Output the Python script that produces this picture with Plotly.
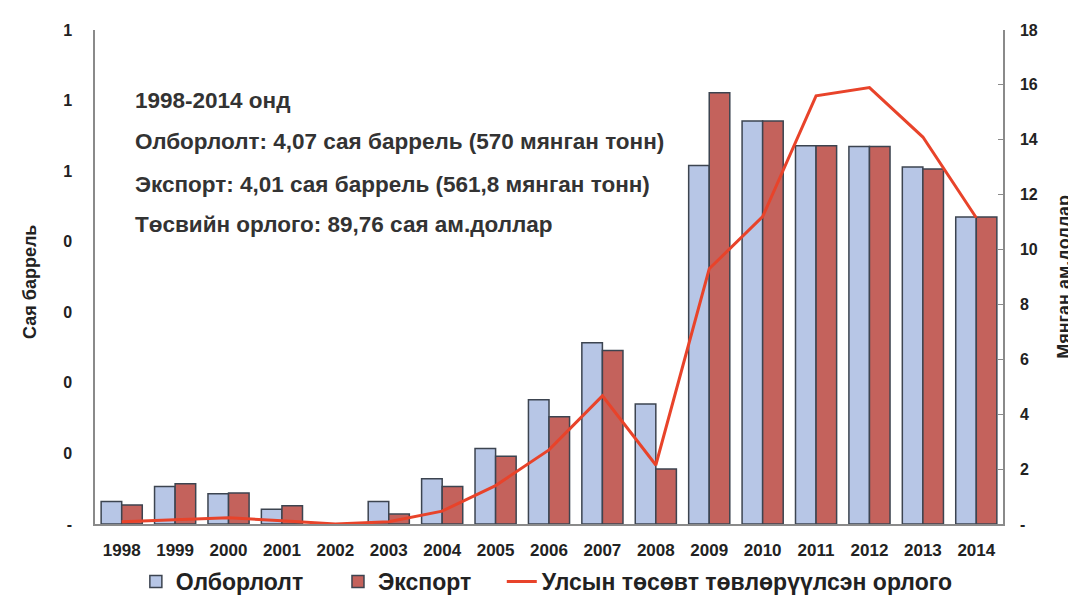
import plotly.graph_objects as go

years = ["1998", "1999", "2000", "2001", "2002", "2003", "2004", "2005", "2006",
         "2007", "2008", "2009", "2010", "2011", "2012", "2013", "2014"]
production = [0.032, 0.053, 0.043, 0.021, 0.0, 0.032, 0.064, 0.107, 0.176,
              0.257, 0.170, 0.508, 0.571, 0.536, 0.535, 0.506, 0.435]
export = [0.027, 0.057, 0.044, 0.026, 0.0, 0.014, 0.053, 0.096, 0.152,
          0.246, 0.078, 0.611, 0.571, 0.536, 0.535, 0.503, 0.435]
revenue = [0.08, 0.15, 0.23, 0.12, 0.0, 0.08, 0.47, 1.40, 2.70,
           4.67, 2.15, 9.30, 11.20, 15.60, 15.90, 14.10, 11.16]

left_tickvals = [0, 0.1, 0.2, 0.3, 0.4, 0.5, 0.6, 0.7]
left_ticktext = ["-", "0", "0", "0", "0", "1", "1", "1"]
right_tickvals = [0, 2, 4, 6, 8, 10, 12, 14, 16, 18]
right_ticktext = ["-", "2", "4", "6", "8", "10", "12", "14", "16", "18"]

info_lines = [
    "1998-2014 онд",
    "Олборлолт: 4,07 сая баррель (570 мянган тонн)",
    "Экспорт: 4,01 сая баррель (561,8 мянган тонн)",
    "Төсвийн орлого: 89,76 сая ам.доллар",
]

FONT = "Liberation Sans, Arial, sans-serif"
TXT = "#222222"
LEG_FONT = dict(family=FONT, size=23, color=TXT, weight="bold")

fig = go.Figure()
fig.add_trace(go.Bar(
    x=years, y=production, name="Олборлолт",
    marker=dict(color="#b7c6e6", line=dict(color="#3c4450", width=1.5)),
    yaxis="y", legend="legend",
))
fig.add_trace(go.Bar(
    x=years, y=export, name="Экспорт",
    marker=dict(color="#c4625c", line=dict(color="#3c4450", width=1.5)),
    yaxis="y", legend="legend2",
))
fig.add_trace(go.Scatter(
    x=years, y=revenue, name="Улсын төсөвт төвлөрүүлсэн орлого",
    mode="lines", line=dict(color="#e8432a", width=3),
    yaxis="y2", legend="legend3",
))

annotations = []
info_y = [0.858, 0.775, 0.688, 0.607]
for txt, yy in zip(info_lines, info_y):
    annotations.append(dict(
        text=txt, xref="paper", yref="paper", x=0.042, y=yy,
        xanchor="left", yanchor="middle", showarrow=False,
        font=dict(family=FONT, size=22.5, color="#333333", weight="bold"),
    ))
annotations.append(dict(
    text="Сая баррель", xref="paper", yref="paper", x=-0.0716, y=0.49,
    xanchor="center", yanchor="middle", showarrow=False, textangle=-90,
    font=dict(family=FONT, size=18, color=TXT, weight="bold"),
))
annotations.append(dict(
    text="Мянган ам.доллар", xref="paper", yref="paper", x=1.067, y=0.50,
    xanchor="center", yanchor="middle", showarrow=False, textangle=-90,
    font=dict(family=FONT, size=18, color=TXT, weight="bold"),
))

leg_common = dict(orientation="h", y=-0.073, yanchor="top", xanchor="left",
                  font=LEG_FONT, itemwidth=30, bgcolor="rgba(0,0,0,0)")

# page body has an 8px default margin, so the figure is sized/offset to fit
fig.update_layout(
    width=1068, height=593,
    margin=dict(l=87, r=73, t=22, b=77, autoexpand=False),
    paper_bgcolor="white", plot_bgcolor="white",
    barmode="group", bargap=0.23, bargroupgap=0.0,
    showlegend=True,
    legend=dict(x=0.045, **leg_common),
    legend2=dict(x=0.2676, **leg_common),
    legend3=dict(x=0.448, **leg_common),
    xaxis=dict(
        type="category", showline=True, linecolor="#8a8a8a", linewidth=1.5,
        ticks="", showgrid=False, ticklabelstandoff=10,
        tickfont=dict(family=FONT, size=17, color=TXT, weight="bold"),
    ),
    yaxis=dict(
        range=[0, 0.7], tickvals=left_tickvals, ticktext=left_ticktext,
        showline=True, linecolor="#8a8a8a", linewidth=1.5, showgrid=False,
        zeroline=False, ticks="", ticklabelstandoff=18,
        tickfont=dict(family=FONT, size=16, color=TXT, weight="bold"),
    ),
    yaxis2=dict(
        range=[0, 18], tickvals=right_tickvals, ticktext=right_ticktext,
        overlaying="y", side="right", showline=True, linecolor="#8a8a8a",
        linewidth=1.5, showgrid=False, zeroline=False,
        ticks="inside", ticklen=5, tickcolor="#8a8a8a", ticklabelstandoff=12,
        tickfont=dict(family=FONT, size=16, color=TXT, weight="bold"),
    ),
    annotations=annotations,
)

fig.write_html("out.html")
